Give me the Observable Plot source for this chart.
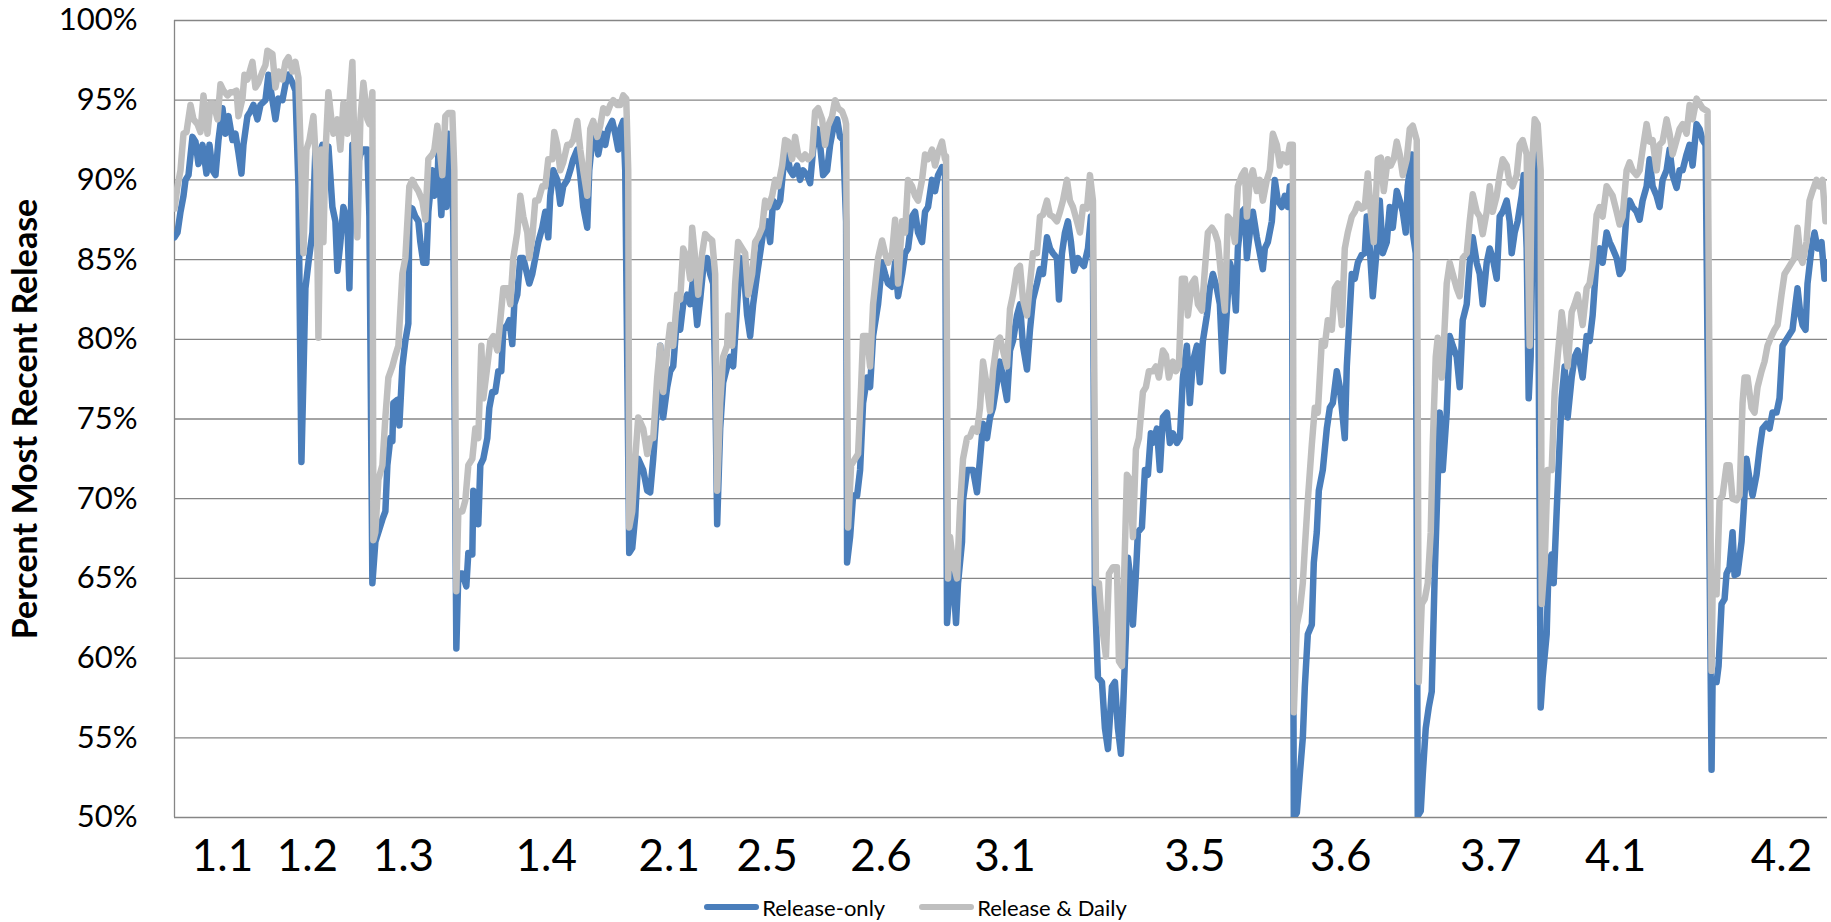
<!DOCTYPE html>
<html><head><meta charset="utf-8">
<script src="https://cdn.jsdelivr.net/npm/d3@7"></script>
<script src="https://cdn.jsdelivr.net/npm/@observablehq/plot@0.6"></script>
<style>
body{margin:0;background:#fff;font-family:Lato, sans-serif;}
#legend{display:flex;justify-content:center;align-items:center;height:44px;font-size:22px;color:#000;width:1831px;}
.item{display:flex;align-items:center;margin:0 17px;}
.sw{display:inline-block;width:55px;height:6px;border-radius:3px;margin-right:3px;}
</style></head><body>
<div id="chart"></div>
<div id="legend"></div>
<script>
// Version labels and the day (days since start of series) where each is centred
const versionLabels = ["1.1","1.2","1.3","1.4","2.1","2.5","2.6","3.1","3.5","3.6","3.7","4.1","4.2"];
const versionDays   = [48,133,229,372,495,593,707,831,1021,1167,1317,1442,1608];
const yTicks = [50,55,60,65,70,75,80,85,90,95,100];
const seriesNames  = ["Release-only","Release & Daily"];
const seriesColors = ["#4A7EBB","#BFBFBF"];

// [day, percent]
const releaseOnly = [[0,86.4],[3,86.7],[6,88],[9,89],[11,90],[14,90.3],[18,92.7],[21,92.4],[24,91],[28,92.2],[32,90.4],[35,92.2],[38,90.6],[41,90.3],[44,92.5],[48,94.5],[51,92.9],[54,94],[58,92.5],[61,92.9],[64,91.7],[67,90.4],[69,92.2],[73,94],[76,94.3],[79,94.7],[83,93.8],[86,94.7],[91,95],[94,96.6],[98,95],[101,93.8],[104,95.1],[108,95],[111,96],[114,96.6],[118,96.1],[121,95.6],[124,89.6],[127,72.3],[129,77.6],[131,83.2],[134,84.8],[138,86.7],[141,91.9],[144,91.3],[148,92.2],[151,90.6],[154,92.1],[158,88.3],[161,87.4],[163,84.3],[166,86.1],[169,88.3],[173,87.4],[175,83.2],[178,92.2],[183,90.9],[186,91.6],[189,91.9],[193,91.9],[195,87.7],[198,64.7],[201,67.3],[204,67.9],[208,68.7],[211,69.2],[213,72.1],[216,73.8],[218,73.6],[219,76],[223,76.2],[225,74.6],[228,78.3],[231,79.9],[234,81],[235,88.3],[238,88.2],[241,87.7],[244,87.4],[246,86.1],[249,84.8],[252,84.8],[254,88],[258,90.6],[260,89],[263,89.3],[264,91.6],[267,87.8],[269,90],[272,88.3],[274,92.9],[277,91.6],[279,87.4],[282,60.6],[284,65.3],[288,65.3],[292,64.5],[294,66.6],[298,66.5],[299,70.5],[302,69.9],[304,68.4],[306,72.1],[309,72.5],[313,73.8],[315,75.7],[318,76.7],[321,76.7],[324,78],[327,78],[329,80.6],[333,80.9],[335,81.2],[338,79.7],[340,82.2],[343,82.8],[346,85.1],[349,85.1],[352,84.3],[355,83.5],[358,84.1],[361,85.1],[364,86.1],[368,87],[371,88],[374,86.4],[376,89],[379,90.6],[383,90],[386,88.5],[389,89.6],[393,90],[396,90.6],[399,91.3],[403,91.9],[406,90.3],[409,88.3],[413,87],[415,90.6],[418,92.5],[421,92.9],[424,91.6],[428,92.9],[431,92.2],[434,93.2],[438,93.7],[441,92.9],[444,91.9],[446,93.2],[449,93.7],[451,90.6],[455,66.6],[458,66.9],[461,68.9],[464,72.5],[469,71.8],[473,70.5],[476,70.4],[479,72.5],[483,76],[486,79.6],[489,75.1],[493,77],[496,78],[499,78.3],[503,81.5],[506,80.6],[509,82.2],[513,82.8],[516,82.2],[519,83.8],[523,80.9],[526,82.5],[529,84.4],[533,85.1],[536,84.1],[539,83.5],[541,77.6],[543,68.4],[546,74.4],[549,77.3],[553,78.3],[556,78.9],[559,78.3],[563,82.2],[566,85.1],[569,84.8],[573,81.5],[576,80.2],[579,82.2],[583,84.1],[586,85.4],[589,86.7],[593,87.4],[596,86.1],[599,88.7],[603,88.3],[606,88.7],[609,90.6],[613,91.6],[616,90.6],[619,90.3],[623,90.9],[626,90],[629,90.6],[633,90.3],[636,89.8],[639,91.9],[643,93.2],[646,92.2],[649,90.3],[653,90.6],[656,92.2],[659,93.2],[663,93.8],[666,92.7],[669,92.5],[672,87.4],[673,66],[676,67.6],[679,70.2],[683,70.2],[686,71.8],[689,76],[693,77.6],[696,77],[699,80.2],[704,82.2],[708,84.8],[711,84.1],[714,83.5],[718,83.3],[721,84.8],[724,82.7],[728,84.1],[731,85.4],[734,85.7],[738,87.7],[741,88],[744,86.7],[748,86.1],[751,88],[754,88.3],[758,90],[761,89.3],[764,90.3],[768,90.8],[771,90.3],[773,62.2],[776,64.7],[779,65.3],[782,62.2],[784,64.7],[788,67.3],[789,69.9],[793,71.8],[796,71.8],[799,71.8],[803,70.4],[806,72.5],[809,74.7],[813,73.8],[816,75.1],[819,75.7],[823,77.3],[826,78.6],[829,77.6],[833,76.2],[836,79.3],[839,79.9],[843,81.5],[846,82.2],[849,79.6],[853,78.1],[856,80.6],[859,82.5],[863,83.5],[866,84.4],[869,84.1],[873,86.4],[876,85.7],[879,85.4],[883,85.1],[885,82.5],[888,85.4],[891,86.7],[894,87.4],[897,86.1],[900,84.3],[904,85.1],[907,84.8],[910,84.6],[914,85.7],[917,87.7],[919,84.8],[921,64],[924,58.8],[928,58.5],[931,55.6],[934,54.3],[938,58.2],[941,58.5],[944,55.6],[947,54],[949,56.6],[952,61.5],[954,66.3],[957,64.7],[959,62.1],[962,65.3],[964,67.9],[968,68.2],[971,71.8],[974,71.5],[977,74.1],[979,73.5],[983,74.4],[986,71.8],[989,75.1],[993,75.4],[996,73.5],[999,74.1],[1003,73.5],[1006,73.8],[1009,77.6],[1013,79.6],[1016,76],[1019,78.6],[1023,79.6],[1026,77.3],[1029,79.9],[1033,81.5],[1036,83.2],[1039,84.1],[1043,83.2],[1046,82.2],[1049,78],[1053,81.8],[1056,84.8],[1059,84.1],[1062,81.8],[1064,85.7],[1068,88],[1071,88.2],[1073,85.1],[1076,86.7],[1079,88],[1083,86.4],[1086,85.4],[1089,84.4],[1091,85.7],[1094,86.1],[1098,87.4],[1101,90],[1104,88.7],[1108,88.3],[1111,89],[1114,88.3],[1116,89.6],[1118,89],[1120,50],[1123,50.3],[1126,52.7],[1129,55],[1131,58.2],[1134,61.5],[1138,62.1],[1140,66],[1143,67.9],[1145,70.5],[1149,71.8],[1153,74.4],[1156,75.7],[1159,76],[1163,78],[1166,77],[1171,73.8],[1173,78.3],[1175,80.6],[1178,84.1],[1181,83.8],[1184,84.8],[1188,85.3],[1191,85.4],[1193,87.7],[1196,85.7],[1199,82.7],[1203,85.7],[1206,88.7],[1209,85.4],[1213,86.1],[1216,88.3],[1219,87],[1223,89.3],[1226,88.7],[1229,88],[1232,86.7],[1234,89.6],[1238,91.6],[1239,86.7],[1242,85.4],[1244,50.1],[1247,50.4],[1249,52.7],[1252,55.6],[1255,56.9],[1258,57.9],[1261,65.3],[1264,71.2],[1266,75.4],[1269,71.8],[1273,75.4],[1276,80.2],[1279,79.6],[1283,78.9],[1286,77],[1289,81.2],[1293,82.2],[1296,84.8],[1299,86.4],[1303,84.8],[1306,84.1],[1309,82.2],[1313,84.8],[1316,85.7],[1319,85.1],[1323,83.8],[1326,87.7],[1329,88],[1333,88.7],[1336,87.4],[1338,85.4],[1341,86.7],[1344,87.4],[1348,89],[1350,90.3],[1353,85.7],[1355,76.3],[1357,78.9],[1359,87.4],[1363,91.6],[1364,90.6],[1367,56.9],[1369,58.8],[1373,61.5],[1375,66],[1378,66.5],[1380,64.7],[1383,69.2],[1385,72.1],[1388,76.3],[1391,78.3],[1394,75.1],[1398,77.6],[1401,78.9],[1404,79.3],[1409,77.6],[1413,80.2],[1416,79.9],[1419,81.5],[1423,85.1],[1426,85.7],[1429,84.8],[1433,86.7],[1436,86.1],[1439,85.7],[1443,85.1],[1446,84.1],[1449,84.4],[1453,88],[1456,88.7],[1459,88.3],[1463,88],[1466,87.5],[1469,88.7],[1473,89.6],[1476,91.3],[1479,89.6],[1483,89],[1486,88.3],[1489,90],[1493,90.6],[1496,91.9],[1499,90.3],[1503,89.5],[1506,90.6],[1509,90.6],[1513,91.6],[1516,92.2],[1519,90.9],[1523,93.5],[1526,93.2],[1529,92.5],[1532,92.2],[1538,53],[1539,58.5],[1543,58.5],[1545,59.5],[1548,63.4],[1551,63.7],[1553,65.3],[1556,65.7],[1559,67.9],[1561,65.2],[1564,65.3],[1568,67.3],[1570,69.2],[1573,72.5],[1576,71.2],[1579,70.2],[1583,71.5],[1586,73.1],[1589,74.4],[1593,74.7],[1596,74.4],[1599,75.4],[1603,75.4],[1606,76.3],[1609,79.6],[1612,79.9],[1615,80.2],[1619,80.6],[1622,82.2],[1624,83.2],[1627,81.5],[1629,80.9],[1632,80.6],[1634,83.5],[1638,85.7],[1641,86.7],[1644,85.7],[1648,86.1],[1651,83.8],[1654,84.8]];

const releaseAndDaily = [[0,88.2],[3,89.6],[6,90.6],[9,92.9],[12,93],[16,94.7],[19,93.8],[23,93.5],[26,93],[29,95.3],[33,92.9],[36,94.8],[39,94.8],[43,93.8],[46,96],[49,95.6],[53,95.3],[56,95.5],[59,95.5],[62,95.6],[64,94],[68,95.1],[70,96.6],[73,96.3],[78,97.4],[81,95.8],[84,96.1],[88,96.8],[91,97.2],[93,98.1],[98,97.9],[101,95.8],[104,96.8],[108,96.3],[111,97.4],[114,97.7],[118,96.8],[121,97.4],[124,96.4],[127,90.3],[129,85.4],[132,91.9],[135,92.5],[139,94],[142,90.6],[144,80.1],[147,91.9],[149,86.1],[151,91.6],[154,95.5],[157,93.8],[159,92.9],[163,93.8],[166,91.9],[169,94.8],[173,92.9],[175,94.8],[178,97.4],[180,92.2],[183,86.4],[186,93.8],[189,96.1],[193,93.8],[195,93.5],[198,95.5],[199,67.4],[201,67.9],[204,71.2],[208,72.1],[211,75.1],[214,77.6],[218,78.3],[221,79],[224,79.6],[228,84.1],[231,85.1],[235,89.6],[238,90],[241,89.6],[244,89.3],[248,88.7],[251,87.5],[254,91.3],[258,91.6],[260,91.9],[263,93.4],[266,91.6],[268,90.3],[271,94],[274,94.2],[278,94.2],[280,90.6],[282,64.2],[284,69.2],[288,69.2],[291,69.9],[294,72.1],[298,72.5],[301,74.4],[304,73.8],[307,79.6],[309,76.3],[313,78.3],[316,79.9],[319,80.2],[323,79.3],[326,81.2],[329,83.2],[333,83.2],[336,82.2],[339,85.1],[343,86.7],[346,89],[349,87.7],[353,86.7],[355,85.1],[358,86.4],[361,88.7],[364,88.7],[368,89.6],[371,89.6],[374,91.3],[378,91.3],[380,93],[383,92.2],[386,90.6],[389,91.1],[393,92.2],[396,92.2],[399,92.5],[403,93.7],[406,91.9],[409,90.6],[413,89],[416,93.2],[419,93.7],[423,92.7],[426,93.4],[429,94.5],[433,94.2],[436,94.7],[439,95],[443,94.7],[446,94.7],[449,95.3],[452,95.1],[454,90.6],[455,68.2],[458,69.2],[461,72.5],[464,75.1],[469,74.4],[473,72.8],[476,73.8],[479,73.8],[483,77.6],[486,79.6],[489,76.7],[493,79.3],[496,80.9],[499,79.6],[503,82.8],[506,82.5],[509,85.7],[513,85.1],[516,83.8],[518,87],[521,85.1],[524,82.8],[528,85.4],[531,86.6],[534,86.4],[538,86.2],[541,84.1],[543,70.5],[546,76],[549,78.9],[553,79.6],[554,81.5],[558,79.6],[561,83.5],[564,86.1],[568,85.7],[571,85.4],[574,82.8],[578,84.1],[581,86.1],[584,86.4],[588,87],[591,88.7],[594,88.3],[598,89],[601,90],[604,89.6],[608,90.9],[611,92.5],[614,92.4],[618,91.3],[621,92.7],[624,91.6],[628,91.3],[631,91.6],[634,91.3],[638,91.6],[641,94.3],[644,94.5],[648,93.8],[651,92.2],[654,93.4],[658,94],[661,95],[664,94.5],[668,94.3],[671,93.8],[672,93.5],[674,68.2],[677,72.1],[681,72.5],[684,72.8],[687,77],[689,80.2],[693,80.2],[696,78.3],[699,82.2],[704,85.1],[708,86.2],[711,85.4],[714,84.8],[718,85.4],[721,87.5],[724,83.5],[728,87.4],[731,86.7],[734,90],[738,89.6],[741,89],[744,88.7],[748,90],[751,91.6],[754,91.3],[758,91.9],[761,90.9],[764,91.7],[768,92.4],[771,91.3],[772,91.5],[774,65],[776,67.6],[779,66],[783,65],[786,69.5],[789,72.5],[793,73.8],[796,73.9],[799,74.4],[803,74.2],[806,75.7],[809,78.6],[813,77],[816,75.5],[819,78],[823,79.9],[826,80.1],[829,79.3],[833,78.3],[836,81.9],[839,82.8],[843,84.4],[846,84.6],[849,82.5],[853,81.5],[856,83.5],[859,85.4],[863,85.4],[866,87.7],[869,87.8],[873,88.7],[876,87.8],[879,87.7],[883,87.4],[886,88],[889,88.7],[893,90],[896,88.7],[899,88.3],[903,87.4],[906,86.7],[909,88.3],[913,88.2],[916,90.3],[919,88.7],[922,64.7],[925,64.7],[928,62.1],[932,60.1],[935,65.3],[939,65.7],[943,65.7],[945,59.8],[948,59.5],[950,64.7],[953,71.5],[956,71.2],[959,67.6],[962,73.1],[965,73.8],[969,76.7],[972,77],[975,78],[979,78],[982,78.3],[985,77.6],[989,79.3],[992,79],[995,77.6],[999,78.6],[1002,78],[1005,78.3],[1008,83.8],[1011,83.8],[1014,81.5],[1018,83.5],[1021,83.8],[1024,82.2],[1028,81.8],[1031,84.4],[1034,86.7],[1038,87],[1041,86.7],[1044,86.1],[1048,83.5],[1051,81.8],[1054,87.7],[1058,87.4],[1061,86.1],[1064,89.6],[1068,90.3],[1071,90.6],[1073,87.7],[1076,90],[1079,90.6],[1083,89.3],[1086,90],[1089,88.7],[1093,90],[1096,90.6],[1099,92.9],[1103,92.2],[1106,90.9],[1109,91.6],[1113,91.1],[1116,92.2],[1119,92.2],[1120,56.6],[1123,62.1],[1126,63],[1129,64.7],[1131,66.9],[1134,69.9],[1138,73.4],[1141,75.7],[1144,75.4],[1148,79.9],[1151,79.6],[1154,81.2],[1158,80.6],[1161,83.2],[1164,83.5],[1168,80.9],[1171,85.7],[1174,86.7],[1178,87.7],[1181,88],[1184,88.5],[1188,88.2],[1191,88.3],[1194,90.4],[1197,88],[1200,86.1],[1204,91.3],[1207,91.4],[1210,89.3],[1214,91.3],[1217,90.9],[1220,91.3],[1223,92.4],[1226,91.6],[1229,90.3],[1233,91.3],[1236,93.2],[1239,93.4],[1243,92.5],[1245,58.5],[1248,63.4],[1251,63.7],[1254,64.7],[1257,67.9],[1259,73.4],[1262,78.9],[1264,80.1],[1268,77.6],[1270,79.6],[1273,83.5],[1276,84.8],[1279,84.1],[1283,83.2],[1286,82.7],[1289,85.1],[1293,85.4],[1296,87.4],[1299,89.1],[1303,88],[1306,87.7],[1309,86.6],[1313,88],[1316,89.6],[1319,88],[1323,89],[1326,90.3],[1329,91.3],[1333,90.9],[1336,89.8],[1339,89.6],[1343,90.3],[1346,92.2],[1349,92.5],[1353,91.6],[1354,86.7],[1356,79.6],[1358,90.6],[1361,93.8],[1364,93.5],[1367,90.6],[1368,63.4],[1371,66],[1374,71.8],[1378,71.8],[1381,76.7],[1384,78.9],[1388,81.7],[1391,80.2],[1394,78.3],[1398,81.7],[1401,82.2],[1404,82.8],[1409,80.9],[1413,83.2],[1416,83.5],[1419,84.8],[1423,87.8],[1426,88.3],[1429,87.7],[1433,89.6],[1436,89.3],[1439,89],[1443,88],[1446,87.2],[1449,87.7],[1453,90.6],[1456,91.1],[1459,90.6],[1463,90.3],[1466,90.6],[1469,91.9],[1473,93.5],[1476,92.4],[1479,92.5],[1483,90.6],[1486,92.2],[1489,92.4],[1493,93.8],[1496,92.9],[1499,91.6],[1503,92.5],[1506,93.2],[1509,93.5],[1513,92.9],[1516,94.7],[1519,93.8],[1523,95.1],[1526,94.8],[1529,94.5],[1534,94.3],[1538,59.2],[1539,64],[1543,64],[1546,69.9],[1549,70.2],[1553,72.1],[1556,72.1],[1559,70],[1563,69.9],[1566,70.2],[1569,76],[1571,77.6],[1574,77.6],[1578,75.7],[1581,75.4],[1584,77],[1588,78],[1591,78.6],[1594,79.6],[1598,80.2],[1601,80.6],[1604,80.9],[1608,82.8],[1611,84.1],[1614,84.4],[1618,84.8],[1621,85.1],[1624,87],[1627,85.1],[1629,84.8],[1633,86.1],[1636,88.7],[1639,89.3],[1643,90],[1646,89.6],[1649,90],[1652,87.4],[1654,88.3]];

const gridColor = "#868686";
const plot = Plot.plot({
  width: 1831, height: 885,
  marginLeft: 174, marginRight: 4, marginTop: 20, marginBottom: 68,
  style: {fontFamily: "Lato, sans-serif", color: "#000", background: "#fff", overflow: "visible"},
  x: {domain: [0, 1654], axis: null},
  y: {domain: [50, 100], axis: null},
  marks: [
    Plot.gridY(yTicks, {stroke: gridColor, strokeOpacity: 1, strokeWidth: 1.3}),
    Plot.ruleX([0], {stroke: gridColor, strokeWidth: 1.3}),
    Plot.axisY(yTicks, {tickSize: 0, tickPadding: 37, tickFormat: d => d + "%", fontSize: 31, label: null}),
    Plot.axisX(versionDays, {tickSize: 0, tickPadding: 22, tickFormat: d => versionLabels[versionDays.indexOf(d)], fontSize: 44, label: null}),
    Plot.line(releaseOnly, {x: d => d[0], y: d => d[1], stroke: seriesColors[0], strokeWidth: 6.5, strokeLinejoin: "round", strokeLinecap: "round", clip: true}),
    Plot.line(releaseAndDaily, {x: d => d[0], y: d => d[1], stroke: seriesColors[1], strokeWidth: 6.5, strokeLinejoin: "round", strokeLinecap: "round", clip: true}),
    Plot.text(["Percent Most Recent Release"], {text: d => d, frameAnchor: "left", dx: -148, rotate: -90, textAnchor: "middle", lineAnchor: "middle", fontSize: 34, fontWeight: "bold", fill: "#000"})
  ]
});
document.getElementById("chart").appendChild(plot);

const legend = d3.select("#legend");
seriesNames.forEach((name, i) => {
  const item = legend.append("div").attr("class", "item");
  item.append("span").attr("class", "sw").style("background", seriesColors[i]);
  item.append("span").text(name);
});
</script>
</body></html>
